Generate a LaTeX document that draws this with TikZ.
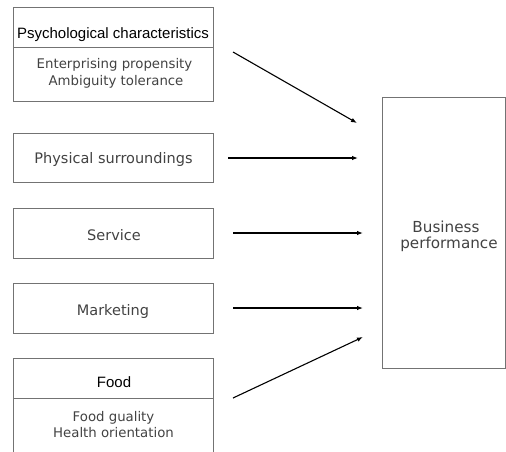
\documentclass[tikz,border=0pt]{standalone}
\usepackage{fontspec}
\setmainfont{DejaVu Sans}
\newfontfamily\headfont{Liberation Sans}
\usetikzlibrary{arrows.meta}
\begin{document}
\begin{tikzpicture}[x=1pt,y=-1pt,
  box/.style={draw=black!55,line width=0.9pt,rectangle,inner sep=0pt,anchor=north west,minimum width=200pt},
  rule/.style={draw=black!55,line width=0.9pt},
  sub/.style={text=black!74,font=\fontsize{13.3}{16}\selectfont,inner sep=0pt,anchor=base},
  lbl/.style={text=black!74,font=\fontsize{14.5}{17}\selectfont,inner sep=0pt,anchor=base},
  outl/.style={text=black!74,font=\fontsize{15.2}{18}\selectfont,inner sep=0pt,anchor=base},
  head/.style={text=black,font=\headfont\fontsize{15}{18}\selectfont,inner sep=0pt,anchor=base},
  link/.style={draw=black,line width=1.1pt,-{Latex[length=6pt,width=4.5pt]}}]
\useasboundingbox (0,0) rectangle (506,451);
\clip (0,0) rectangle (506,451);

% left column of factor boxes
\node[box,minimum height=94pt] (psych) at (13,7) {};
\draw[rule] (13,47) -- (213,47);
\node[head] (psychT) at (113,38) {Psychological characteristics};
\node[sub] (psychB1) at (114.5,68.3) {Enterprising propensity};
\node[sub] (psychB2) at (116,85.5) {Ambiguity tolerance};

\node[box,minimum height=49pt] (phys) at (13,133) {};
\node[lbl] (physT) at (113.5,163) {Physical surroundings};

\node[box,minimum height=50pt] (serv) at (13,208) {};
\node[lbl] (servT) at (114,240.7) {Service};

\node[box,minimum height=50pt] (mkt) at (13,283) {};
\node[lbl] (mktT) at (113,315.5) {Marketing};

\node[box,minimum height=110pt] (food) at (13,358) {};
\draw[rule] (13,398) -- (213,398);
\node[head] (foodT) at (114,387.5) {Food};
\node[sub] (foodB1) at (113.5,421.7) {Food guality};
\node[sub] (foodB2) at (113.5,437.7) {Health orientation};

% outcome box
\node[box,minimum width=123pt,minimum height=271pt] (perf) at (382,97) {};
\node[outl] (perfT1) at (446,232) {Business};
\node[outl] (perfT2) at (449,248.5) {performance};

% arrow end points
\coordinate (a1s) at (233,52);  \coordinate (a1e) at (357,123);
\coordinate (a2s) at (228,158); \coordinate (a2e) at (358,158);
\coordinate (a3s) at (233,233); \coordinate (a3e) at (363,233);
\coordinate (a4s) at (233,308); \coordinate (a4e) at (363,308);
\coordinate (a5s) at (233,398); \coordinate (a5e) at (363,337);

\draw[link] (a1s) -- (a1e);
\draw[link] (a2s) -- (a2e);
\draw[link] (a3s) -- (a3e);
\draw[link] (a4s) -- (a4e);
\draw[link] (a5s) -- (a5e);
\end{tikzpicture}
\end{document}
